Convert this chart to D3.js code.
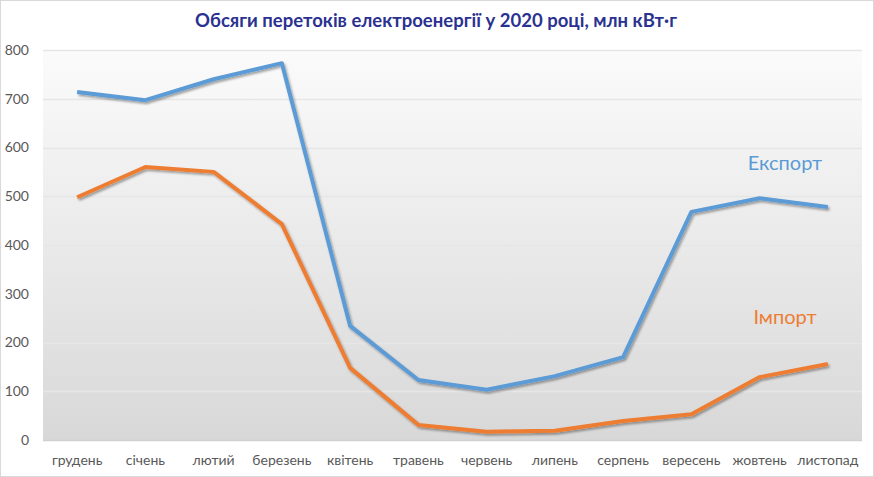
<!DOCTYPE html>
<html><head><meta charset="utf-8">
<script src="https://cdn.jsdelivr.net/npm/d3@7"></script>
<style>body{margin:0;background:#fff}svg{display:block}</style>
</head><body><svg id="c" width="874" height="477"></svg>
<script>
const months = ["грудень","січень","лютий","березень","квітень","травень","червень","липень","серпень","вересень","жовтень","листопад"];
const exportVals = [714,697,740,773,234,123,103,131,170,468,496,478];
const importVals = [498,560,550,443,148,31,17,19,39,53,129,156];
const yTicks = [0,100,200,300,400,500,600,700,800];
const title = "Обсяги перетоків електроенергії у 2020 році, млн кВт·г";

const svg = d3.select("#c");
const W=874,H=477, L=43, R=862, T=50, B=440;
const font = "Lato, 'Open Sans', sans-serif";
const defs = svg.append("defs");
const g = defs.append("linearGradient").attr("id","bg").attr("x1",0).attr("y1",0).attr("x2",0).attr("y2",1);
g.append("stop").attr("offset","0%").attr("stop-color","#fbfbfb");
g.append("stop").attr("offset","100%").attr("stop-color","#d8d8d8");
const f = defs.append("filter").attr("id","sh").attr("x","-10%").attr("y","-10%").attr("width","120%").attr("height","120%");
f.append("feDropShadow").attr("dx",1.5).attr("dy",2).attr("stdDeviation",1.2).attr("flood-color","#000").attr("flood-opacity",0.35);

svg.append("rect").attr("x",0.5).attr("y",0.5).attr("width",W-1).attr("height",H-1).attr("fill","#fff").attr("stroke","#d9d9d9");

const x = d3.scaleBand().domain(months).range([L,R]);
const y = d3.scaleLinear().domain([0,800]).range([B,T]);

svg.append("rect").attr("x",L).attr("y",T).attr("width",R-L).attr("height",B-T).attr("fill","url(#bg)");

svg.append("g").selectAll("line").data(yTicks).join("line")
  .attr("x1",L).attr("x2",R).attr("y1",d=>Math.round(y(d))+0.5).attr("y2",d=>Math.round(y(d))+0.5)
  .attr("stroke",d=>d===0?"#d0d0d0":"#e6e6e6").attr("stroke-width",1.5);

const yAxis = svg.append("g").attr("transform",`translate(${L},0)`).call(d3.axisLeft(y).tickValues(yTicks).tickSize(0).tickPadding(14));
yAxis.select(".domain").remove();
yAxis.selectAll("text").attr("font-family",font).attr("font-size",14).attr("fill","#595959");

const xAxis = svg.append("g").attr("transform",`translate(0,${B})`).call(d3.axisBottom(x).tickSize(0).tickPadding(15));
xAxis.select(".domain").remove();
xAxis.selectAll("text").attr("font-family",font).attr("font-size",14).attr("fill","#595959");

const line = d3.line().x((d,i)=>x(months[i])+x.bandwidth()/2).y(d=>y(d));
svg.append("path").datum(exportVals).attr("d",line).attr("fill","none").attr("stroke","#5b9bd5").attr("stroke-width",4).attr("stroke-linejoin","round").attr("filter","url(#sh)");
svg.append("path").datum(importVals).attr("d",line).attr("fill","none").attr("stroke","#ed7d31").attr("stroke-width",4).attr("stroke-linejoin","round").attr("filter","url(#sh)");

svg.append("text").attr("x",785).attr("y",170).attr("text-anchor","middle").attr("font-family",font).attr("font-size",20).attr("fill","#5b9bd5").text("Експорт");
svg.append("text").attr("x",785).attr("y",324).attr("text-anchor","middle").attr("font-family",font).attr("font-size",20).attr("fill","#ed7d31").text("Імпорт");

svg.append("text").attr("x",436).attr("y",27).attr("text-anchor","middle").attr("font-family",font).attr("font-weight","bold").attr("font-size",18.5).attr("fill","#2b3190").text(title);
</script></body></html>
